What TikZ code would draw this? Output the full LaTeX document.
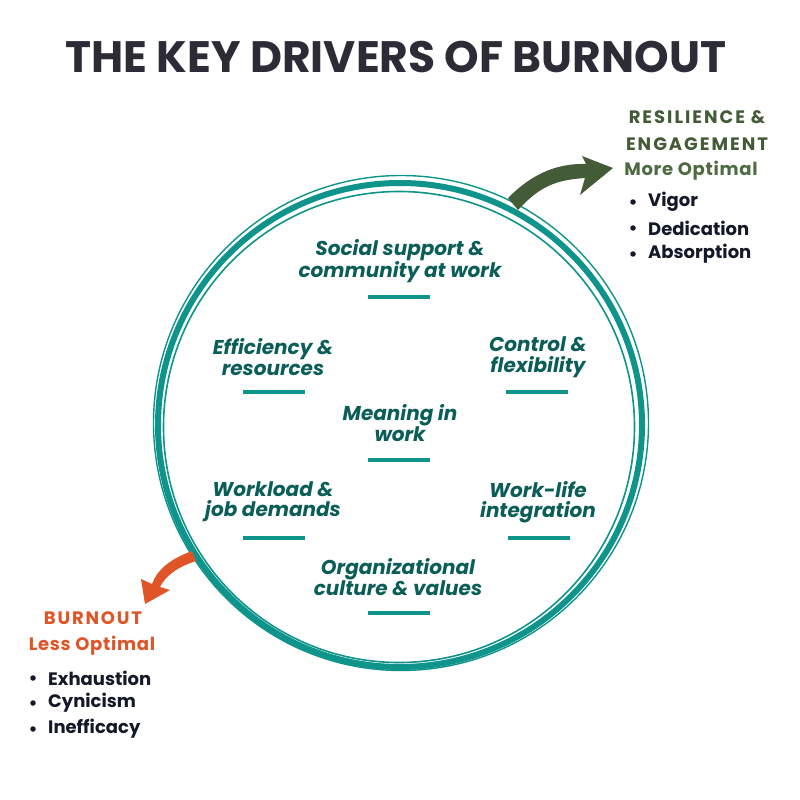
\documentclass[tikz,border=0pt]{standalone}
\usepackage{fontspec}
\setmainfont{Poppins}
\definecolor{teal1}{HTML}{0E948A}
\definecolor{tealtxt}{HTML}{0B5E58}
\definecolor{olive}{HTML}{435C37}
\definecolor{oliveL}{HTML}{4F6B43}
\definecolor{burn}{HTML}{E05528}
\definecolor{ink}{HTML}{14192A}
\definecolor{titlec}{HTML}{2D2C36}
\begin{document}
\begin{tikzpicture}[x=1pt,y=-1pt,
  driver/.style={font=\fontsize{20}{20.5}\selectfont\bfseries\itshape, text=tealtxt, align=center, inner sep=0pt},
  uline/.style={draw=teal1, line width=3.2pt},
  bul/.style={font=\fontsize{18}{19}\selectfont\bfseries, text=ink, anchor=west, inner sep=0pt},
  dot/.style={circle, fill=ink, inner sep=0pt, minimum size=5.5pt}]
\useasboundingbox (0,0) rectangle (800,800);
\fill[white] (0,0) rectangle (800,800);
% title
\node[font=\fontsize{44}{48}\selectfont\bfseries, text=titlec, inner sep=0pt] (title) at (396,57) {THE KEY DRIVERS OF BURNOUT};
% circle
\draw[teal1, line width=6pt] (400,425) circle (242);
\draw[teal1, line width=1.6pt] (399,427) circle (235.5);
\draw[teal1, line width=1.4pt] (401,423) circle (247.5);
% arrows
\fill[olive] (518,210) .. controls (540,186) and (556,180) .. (585,178)
  -- (580,195) -- (613,168) -- (582,156) -- (586,164)
  .. controls (552,163) and (528,178) .. (508,198) -- cycle;
\fill[burn] (192,551) .. controls (170,559) and (157,570) .. (152,584)
  -- (141,579) -- (145,604) -- (170,590) -- (160,587)
  .. controls (166,575) and (178,567) .. (196,561) -- cycle;
% drivers
\node[driver] (d1) at (400,261) {Social support \&\\community at work};
\draw[uline] (368,297) -- (430,297);
\node[driver] (d2) at (273,357) {Efficiency \&\\resources};
\draw[uline] (243,392) -- (305,392);
\node[driver] (d3) at (538,357) {Control \&\\flexibility};
\draw[uline] (506,392) -- (568,392);
\node[driver] (d4) at (400,423) {Meaning in\\work};
\draw[uline] (368,460) -- (430,460);
\node[driver] (d5) at (273,502) {Workload \&\\job demands};
\draw[uline] (243,538) -- (305,538);
\node[driver] (d6) at (538,502) {Work-life\\integration};
\draw[uline] (508,538) -- (570,538);
\node[driver] (d7) at (398,577) {Organizational\\culture \& values};
\draw[uline] (368,613) -- (430,613);
% right panel
\node[font=\fontsize{18}{27}\selectfont\bfseries\addfontfeature{LetterSpace=11}, text=olive, align=center, inner sep=0pt] (res) at (697,131) {RESILIENCE \&\\ENGAGEMENT};
\node[font=\fontsize{18}{19}\selectfont\bfseries\addfontfeature{LetterSpace=4}, text=oliveL, inner sep=0pt] (mo) at (691,171) {More Optimal};
\node[dot] (b1) at (633,202) {};
\node[bul] (t1) at (648,202) {Vigor};
\node[dot] (b2) at (633,228) {};
\node[bul] (t2) at (648,228) {Dedication};
\node[dot] (b3) at (633,254) {};
\node[bul] (t3) at (648,254) {Absorption};
% left panel
\node[font=\fontsize{18}{19}\selectfont\bfseries\addfontfeature{LetterSpace=10}, text=burn, inner sep=0pt] (bo) at (93,618) {BURNOUT};
\node[font=\fontsize{18}{19}\selectfont\bfseries\addfontfeature{LetterSpace=4}, text=burn, inner sep=0pt] (lo) at (92,646) {Less Optimal};
\node[dot] (c1) at (33,678) {};
\node[bul] (u1) at (48,678) {Exhaustion};
\node[dot] (c2) at (33,703) {};
\node[bul] (u2) at (48,703) {Cynicism};
\node[dot] (c3) at (33,729) {};
\node[bul] (u3) at (48,729) {Inefficacy};
\end{tikzpicture}
\end{document}
